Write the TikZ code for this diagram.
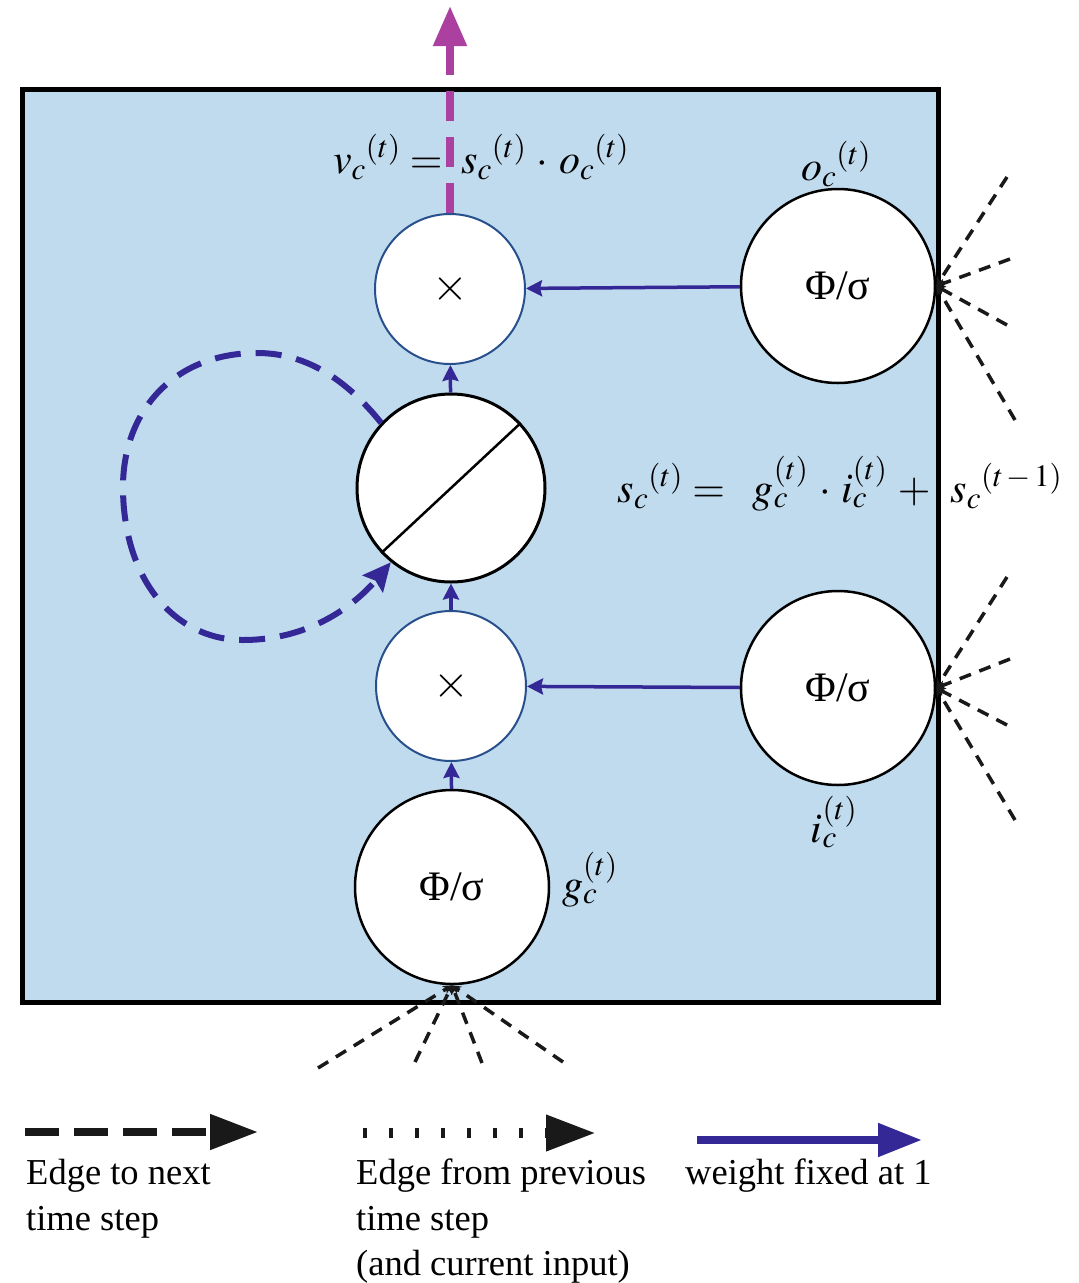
\documentclass[tikz,border=0pt]{standalone}
\usepackage{mathptmx}
\usepackage[no-math]{fontspec}
\setmainfont{Liberation Serif}
\usetikzlibrary{arrows.meta}
\definecolor{boxblue}{RGB}{193,219,238}
\definecolor{wblue}{RGB}{52,40,150}
\definecolor{cblue}{RGB}{40,80,140}
\definecolor{mag}{RGB}{172,64,160}
\definecolor{dk}{RGB}{25,25,25}
\tikzset{
  multc/.style={circle, draw=cblue, line width=2pt, fill=white, inner sep=0pt, minimum size=150pt, font=\fontsize{46}{50}\selectfont},
  bigc/.style={circle, draw=black, line width=2.5pt, fill=white, inner sep=0pt, minimum size=194pt, font=\fontsize{42}{48}\selectfont},
  wt/.style={draw=wblue, line width=3.5pt, -{Stealth[length=16pt,width=16pt,inset=2pt]}},
  selfloop/.style={draw=wblue, line width=6pt, dash pattern=on 26pt off 15pt, -{Stealth[length=28pt,width=26pt,inset=4pt]}},
  outarrow/.style={draw=mag, line width=8pt, dash pattern=on 30pt off 16pt, -{Triangle[length=40pt,width=32pt]}},
  inp/.style={draw=dk, line width=3.5pt, dash pattern=on 12pt off 9pt, -{Stealth[length=9pt,width=9pt]}},
  frm/.style={anchor=base, inner sep=0pt, font=\fontsize{42}{50}\selectfont},
  lbl/.style={anchor=base west, inner sep=0pt, font=\fontsize{36.5}{46}\selectfont},
}
\begin{document}
\begin{tikzpicture}[x=1pt,y=-1pt]
\useasboundingbox (0,0) rectangle (1079,1283);
\fill[white] (0,0) rectangle (1079,1283);
% main box
\fill[boxblue] (22,89) rectangle (938,1002);
\draw[line width=5pt] (22,89) rectangle (938,1002);

% nodes
\node[multc] (tx) at (450,289) {$\times$};
\node[bigc, minimum size=188pt, line width=3pt] (d) at (451,488) {};
\draw[line width=2.5pt] (d.223) -- (d.43);
\node[multc] (bx) at (451,686) {$\times$};
\node[bigc] (g) at (452,887) {Φ/σ};
\node[bigc] (o) at (838,286) {Φ/σ};
\node[bigc] (i) at (838,688) {Φ/σ};

% weight-1 arrows
\draw[wt] (o) -- (tx);
\draw[wt] (i) -- (bx);
\draw[wt] (g) -- (bx);
\draw[wt] (bx) -- (d);
\draw[wt] (d) -- (tx);

% self loop
\draw[selfloop] (d.137) .. controls (345,378) and (305,353) .. (257,353)
  .. controls (175,353) and (123,410) .. (123,487)
  .. controls (123,580) and (175,640) .. (243,640)
  .. controls (310,640) and (355,605) .. (d.231);

% output arrow
\coordinate (top) at (450,6);
\draw[outarrow] (tx.north) -- (top);

% inputs to o
\coordinate (o1) at (1007,177);
\coordinate (o2) at (1010,259);
\coordinate (o3) at (1007,325);
\coordinate (o4) at (1015,420);
\foreach \p in {o1,o2,o3,o4} \draw[inp] (\p) -- (o.east);
% inputs to i
\coordinate (i1) at (1007,577);
\coordinate (i2) at (1010,659);
\coordinate (i3) at (1007,725);
\coordinate (i4) at (1015,820);
\foreach \p in {i1,i2,i3,i4} \draw[inp] (\p) -- (i.east);
% inputs to g
\coordinate (g1) at (318,1068);
\coordinate (g2) at (415,1062);
\coordinate (g3) at (482,1063);
\coordinate (g4) at (563,1062);
\foreach \p in {g1,g2,g3,g4} \draw[inp] (\p) -- (g.south);

% formulas
\node[frm] (fv) at (481,173) {${v_c}^{(t)} = \;{s_c}^{(t)}\,\cdot\,{o_c}^{(t)}$};
\node[frm] (fs) at (840,502) {${s_c}^{(t)} =\;\; g_c^{(t)}\,\cdot\, i_c^{(t)} \,+\;\, {s_c}^{(t\,-\,1)}$};
\node[frm] (lo) at (836,180) {${o_c}^{(t)}$};
\node[frm] (li) at (834,842) {$i_c^{(t)}$};
\node[frm, anchor=base west] (lg) at (562,898) {$g_c^{(t)}$};

% legend
\coordinate (a1s) at (25,1132); \coordinate (a1e) at (258,1132);
\draw[draw=dk, line width=8pt, dash pattern=on 34pt off 15pt, -{Triangle[length=48pt,width=34pt]}] (a1s) -- (a1e);
\coordinate (a2s) at (363,1133); \coordinate (a2e) at (596,1133);
\draw[draw=dk, line width=10pt, dash pattern=on 4pt off 22pt, -{Triangle[length=50pt,width=34pt]}] (a2s) -- (a2e);
\coordinate (a3s) at (697,1140); \coordinate (a3e) at (922,1140);
\draw[draw=wblue, line width=8pt, -{Triangle[length=44pt,width=32pt]}] (a3s) -- (a3e);

\node[lbl] (t1) at (26,1184) {Edge to next};
\node[lbl] (t1b) at (26,1230) {time step};
\node[lbl] (t2) at (356,1184) {Edge from previous};
\node[lbl] (t2b) at (356,1230) {time step};
\node[lbl] (t2c) at (356,1275) {(and current input)};
\node[lbl] (t3) at (685,1184) {weight fixed at 1};
\end{tikzpicture}
\end{document}
